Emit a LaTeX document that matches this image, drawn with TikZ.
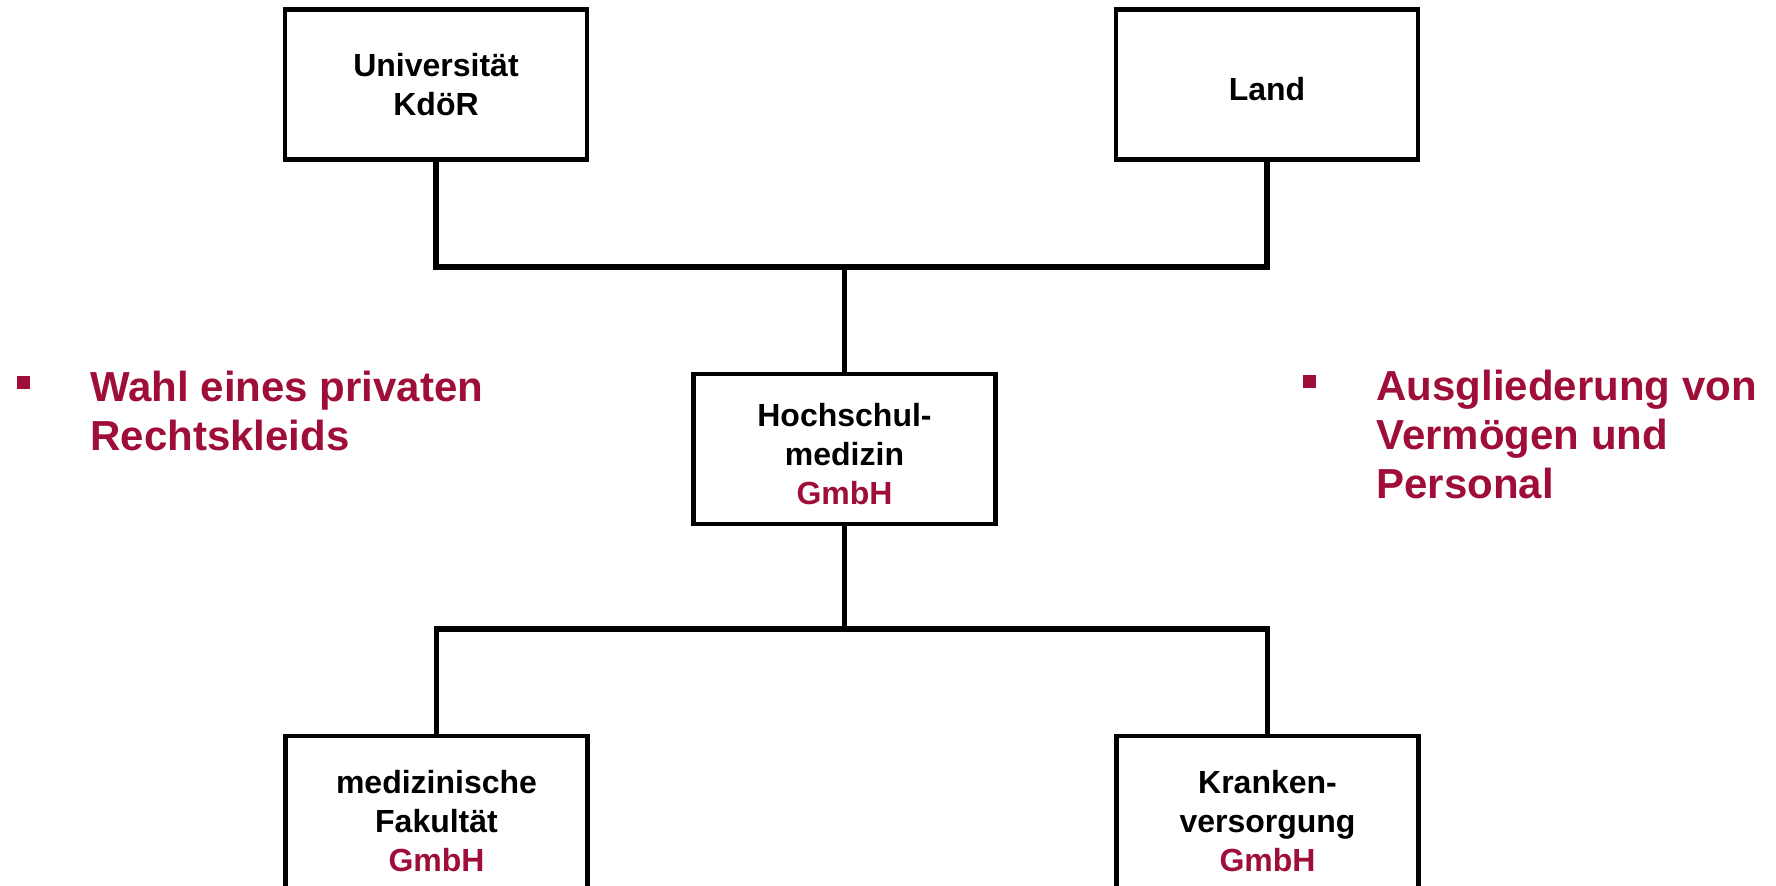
\documentclass[tikz,border=0pt]{standalone}
\usepackage{fontspec}
\setmainfont{Liberation Sans}
\usetikzlibrary{positioning}
\definecolor{hsred}{RGB}{158,14,56}

\begin{document}
\begin{tikzpicture}[x=0.5pt, y=-0.5pt]
\tikzset{
box/.style = {draw, rectangle, line width=2.2pt, minimum width=151pt, minimum height=75pt, inner sep=0pt, align=center, font=\bfseries\fontsize{16}{19.5}\selectfont},
lowbox/.style = {box, minimum height=85pt},
line/.style = {draw, line width=2.6pt, line join=miter},
bullet/.style = {rectangle, fill=hsred, minimum size=6.5pt, inner sep=0pt},
note/.style = {anchor=north west, inner sep=0pt, align=left, text=hsred, font=\bfseries\fontsize{21}{24.5}\selectfont}
}
\useasboundingbox (0,0) rectangle (1776,885);
\clip (0,0) rectangle (1776,885);

     \node [box] (uni) at (436,84.5) {Universität\\KdöR};
     \node [box, text height=16pt] (land) at (1267,84.5) {Land};
     \node [box] (hs) at (844.5,449) {\rule{0pt}{16.5pt}Hochschul-\\medizin\\{\color{hsred}GmbH}};
     \node [lowbox] (fak) at (436.5,821) {medizinische\\Fakultät\\{\color{hsred}GmbH}};
     \node [lowbox] (kv) at (1267.5,821) {Kranken-\\versorgung\\{\color{hsred}GmbH}};

     \coordinate (topjoin) at (844.5,267);
     \coordinate (botjoin) at (844.5,629);

     \path [line] (uni.south) |- (topjoin) -| (land.south);
     \path [line] (topjoin) -- (hs.north);
     \path [line] (hs.south) -- (botjoin);
     \path [line] (fak.north) |- (botjoin) -| (kv.north);

     \node [bullet] (bl) at (23.5,382) {};
     \node [note] (wahl) at (90,371) {Wahl eines privaten\\Rechtskleids};
     \node [bullet] (br) at (1309.5,381.5) {};
     \node [note] (ausg) at (1376,370) {Ausgliederung von\\Vermögen und\\Personal};
\end{tikzpicture}
\end{document}
